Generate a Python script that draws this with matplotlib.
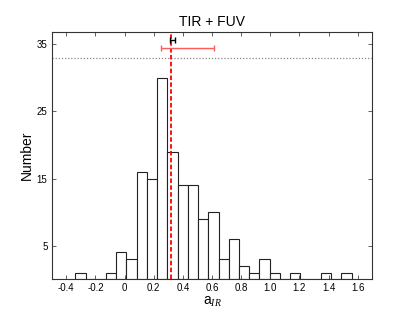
import numpy as np
import matplotlib
matplotlib.use("Agg")
import matplotlib.pyplot as plt

plt.rcParams['font.family'] = ['Liberation Sans', 'DejaVu Sans']
plt.rcParams['mathtext.fontset'] = 'custom'
plt.rcParams['mathtext.it'] = 'Liberation Serif:italic'

# histogram: 27 bins from -0.338 to 1.557
bin_start = -0.338
bin_width = 0.0702
counts = [1, 0, 0, 1, 4, 3, 16, 15, 30, 19, 14, 14, 9, 10,
          3, 6, 2, 1, 3, 1, 0, 1, 0, 0, 1, 0, 1]

# summary markers
median_line = 0.32
red_center, red_err, red_y = 0.43, 0.182, 34.5
black_center, black_err, black_y = 0.329, 0.016, 35.6
dotted_y = 33.0

edges = bin_start + bin_width * np.arange(len(counts) + 1)

fig = plt.figure(figsize=(4.14, 3.11), dpi=100)
ax = fig.add_axes([0.1248, 0.1019, 0.7746, 0.7961])

ax.bar(edges[:-1], counts, width=bin_width, align="edge",
       facecolor="white", edgecolor="#222222", linewidth=0.8)

ax.axhline(dotted_y, color="#888888", linestyle=(0, (1, 1.5)), linewidth=0.9)
ax.axvline(median_line, color="red", linestyle=(0, (2.5, 1.3)), linewidth=1.3)

ax.errorbar(red_center, red_y, xerr=red_err, color="#ff5a5a",
            linewidth=1.0, capsize=2.5, capthick=1.0)
ax.errorbar(black_center, black_y, xerr=black_err, color="black",
            linewidth=1.0, capsize=2, capthick=1.0)

ax.set_xlim(-0.5, 1.7)
ax.set_ylim(0, 36.85)
ax.set_xticks(np.arange(-0.4, 1.61, 0.2))
ax.set_xticklabels(["-0.4", "-0.2", "0", "0.2", "0.4", "0.6", "0.8",
                    "1.0", "1.2", "1.4", "1.6"])
ax.set_yticks([5, 15, 25, 35])

ax.tick_params(direction="in", top=True, right=True, length=3,
               width=0.6, labelsize=7, pad=3, color="#444444")
for s in ax.spines.values():
    s.set_linewidth(0.8)
    s.set_color("#333333")

ax.set_title("TIR + FUV", fontsize=10, pad=4)
ax.set_xlabel("a$_{IR}$", fontsize=10, labelpad=1)
ax.set_ylabel("Number", fontsize=10, labelpad=2)

fig.savefig("out.png", dpi=100)
